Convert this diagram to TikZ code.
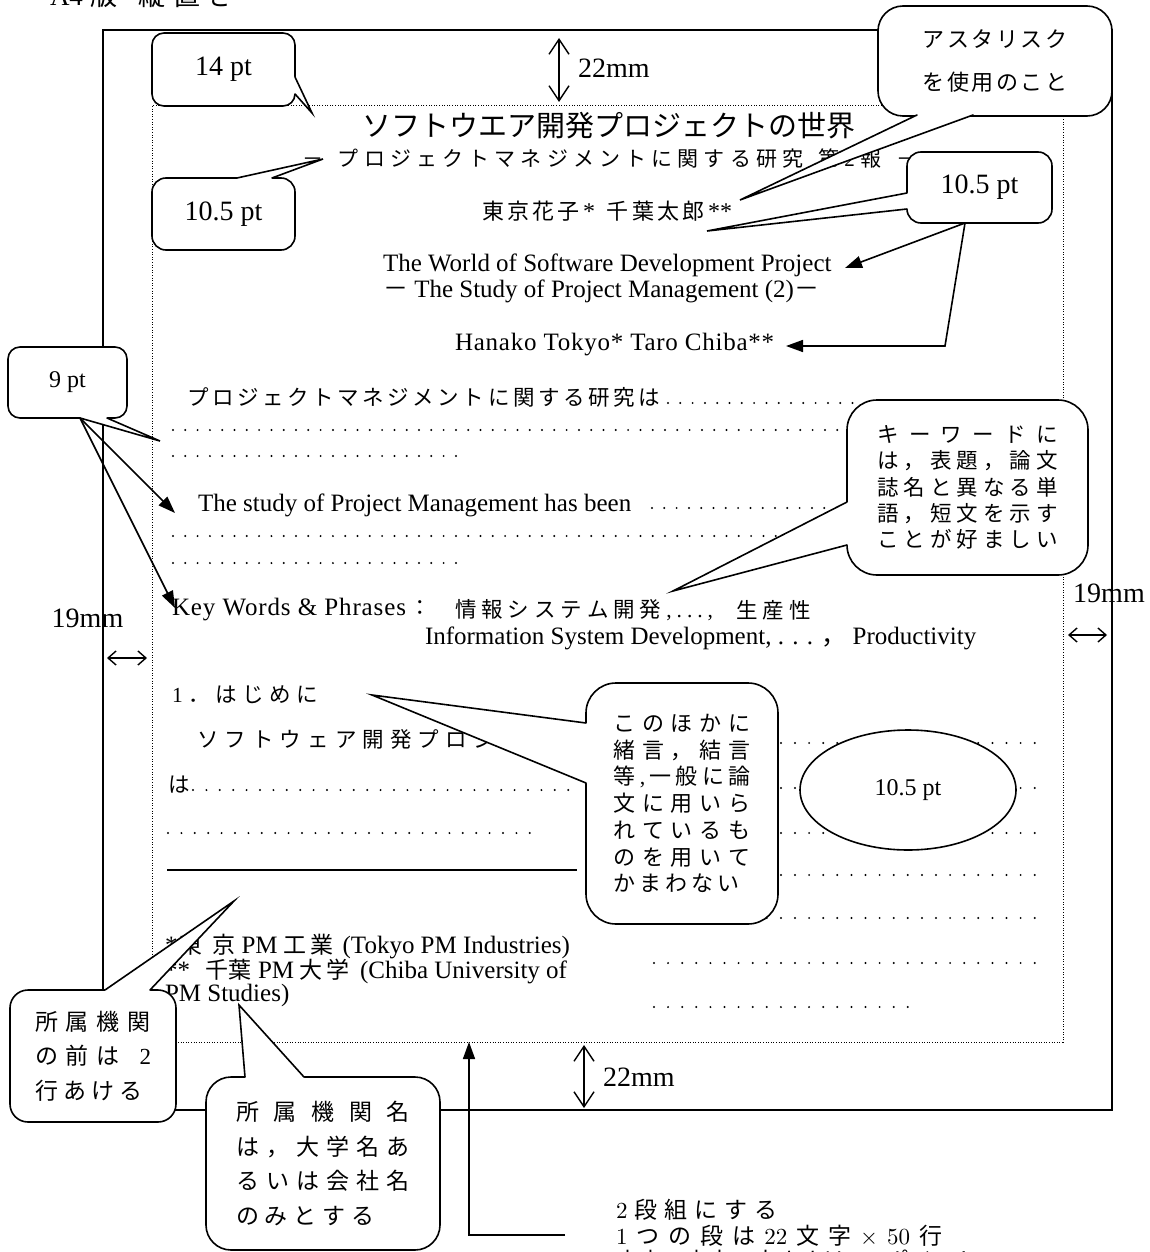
\documentclass[tikz,border=0pt]{standalone}
\usepackage{fontspec}
\setmainfont{Liberation Serif}
\newfontfamily\jp{Noto Sans CJK JP}
\newfontfamily\lmr{lmroman10-regular}[Extension=.otf]
\usetikzlibrary{calc,arrows.meta,shapes.geometric}
\makeatletter
\newcommand\spr[2]{\hbox to #1{\@tfor\spr@t:=#2\do{{\spr@t}\hfil}\unskip}}
\makeatother
\newcommand\fsz[1]{\fontsize{#1}{#1}\selectfont}
\newcommand\ctail[4]{%
  \fill[white] ($(#1)+#4$) -- (#1) -- (#2) -- (#3) -- ($(#3)+#4$) -- cycle;
  \draw[tailline] (#1) -- (#2) -- (#3);}
\tikzset{
  txt/.style={inner sep=0pt, outer sep=0pt, anchor=west},
  ctxt/.style={inner sep=0pt, outer sep=0pt},
  cbox/.style={draw, fill=white, line width=1.6pt, inner sep=0pt, rounded corners=#1},
  tailline/.style={line width=1.6pt, line join=miter, line cap=round},
  arr/.style={line width=1.6pt, -{Triangle[length=17pt,width=12pt]}},
  dimv/.style={line width=1.4pt, {Straight Barb[length=15pt,width=20pt]}-{Straight Barb[length=15pt,width=20pt]}},
  dimh/.style={line width=1.4pt, {Straight Barb[length=8pt,width=14pt]}-{Straight Barb[length=8pt,width=14pt]}},
  dotrow/.style={line width=2.2pt, line cap=round, dash pattern=on 0pt off #1},
  outerframe/.style={line width=1.8pt},
  innerframe/.style={line width=1pt, dash pattern=on 1pt off 1.6pt},
}
\begin{document}
\begin{tikzpicture}[x=1pt,y=-1pt]
\useasboundingbox (0,0) rectangle (1149,1252);
\fill[white] (0,0) rectangle (1149,1252);

% frames
\draw[outerframe] (103,30) rectangle (1112,1110);
\draw[innerframe] (152,106) rectangle (1063,1042);

% top note (cut off at the top edge, as in the reference)
\node[txt, font=\jp\fsz{27}] (a4) at (50,-5) {\spr{185pt}{{\rmfamily A4}版{\ }縦置き}};

% title block
\node[txt, font=\jp\fsz{29}] (title) at (362,126) {\spr{490pt}{ソフトウエア開発プロジェクトの世界}};
\node[txt, font=\jp\fsz{21}] (subt) at (302,159) {\spr{615pt}{－{\ }プロジェクトマネジメントに関する研究{\ }第{\rmfamily 2}報{\ }－}};
\node[txt, font=\jp\fsz{22}] (authj) at (482,211) {\spr{250pt}{東京花子{\rmfamily\fsz{24}*}{\ }千葉太郎{\rmfamily\fsz{24}**}}};
\node[txt, font=\fsz{25}] (twe) at (383,265) {The World of Software Development Project};
\node[txt, font=\fsz{25}] (tse) at (383,291) {{\jp －} The Study of Project Management (2){\jp －}};
\node[txt, font=\fsz{25}] (authe) at (455,345) {\addfontfeatures{LetterSpace=3}Hanako Tokyo* Taro Chiba**};

% abstracts
\node[txt, font=\jp\fsz{21.5}] (absj) at (187,397) {\spr{473pt}{プロジェクトマネジメントに関する研究は}};
\draw[dotrow=12.3pt] (668,403) -- (880,403);
\draw[dotrow=12.3pt] (173,430) -- (880,430);
\draw[dotrow=12.3pt] (173,456) -- (467,456);
\node[txt, font=\fsz{25}] (abse) at (198,505) {The study of Project Management has been};
\draw[dotrow=12.3pt] (652,508) -- (880,508);
\draw[dotrow=12.3pt] (173,536) -- (880,536);
\draw[dotrow=12.3pt] (173,563) -- (467,563);

% key words
\node[txt, font=\fsz{25}] (kwa) at (172,610) {\addfontfeatures{LetterSpace=3.5}Key Words \& Phrases{\jp\fsz{21.5}\hspace{3pt}：}};
\node[txt, font=\jp\fsz{21.5}] (kwb) at (455,610) {\spr{258pt}{情報システム開発{\rmfamily ,}{\rmfamily .}{\rmfamily .}{\rmfamily .}{\rmfamily ,}}};
\node[txt, font=\jp\fsz{21.5}] (kwc) at (736,610) {\spr{75pt}{生産性}};
\node[txt, font=\fsz{25}] (kwe) at (425,638) {Information System Development, . . . {\jp ，} Productivity};

% section 1
\node[txt, font=\jp\fsz{21.5}] (sec) at (172,695) {\spr{146pt}{{\rmfamily 1}．はじめに}};
\node[txt, font=\jp\fsz{21.5}] (intro) at (197,739) {\spr{408pt}{ソフトウェア開発プロジェクトの}};
\node[txt, font=\jp\fsz{21.5}] (ha) at (168,785) {は};
\draw[dotrow=13.4pt] (193,790) -- (580,790);
\draw[dotrow=13.4pt] (168,833) -- (540,833);
\draw[line width=1.3pt] (167,870) -- (577,870);
\foreach \yy in {743,788,833,875,918,963} \draw[dotrow=14.1pt] (654,\yy) -- (1036,\yy);
\draw[dotrow=14.1pt] (654,1007) -- (908,1007);

% affiliations
\node[txt, font=\fsz{25}] (af1) at (165,947) {*\hspace{2pt}{\jp\fsz{23}\spr{56pt}{東京}}\hspace{6pt}PM\hspace{6pt}{\jp\fsz{23}\spr{50pt}{工業}}\hspace{9pt}(Tokyo PM Industries)};
\node[txt, font=\fsz{25}] (af2) at (165,971) {**\hspace{15pt}{\jp\fsz{23}\spr{46pt}{千葉}}\hspace{7pt}PM\hspace{5pt}{\jp\fsz{23}\spr{50pt}{大学}}\hspace{11pt}(Chiba University of};
\node[txt, font=\fsz{25}] (af3) at (165,995) {PM Studies)};

% bottom note
\node[txt, font=\jp\fsz{23}] (n1) at (616,1210) {\spr{161pt}{{\lmr 2}段組にする}};
\node[txt, font=\jp\fsz{23}] (n2) at (616,1236) {\spr{326pt}{{\lmr 1}つの段は{\lmr 22}文字{\lmr ×}{\lmr 50}行}};
\node[txt, font=\jp\fsz{23}] (n3) at (616,1261) {\spr{336pt}{本文の文字の大きさは{\lmr 10.5}ポイント}};

% dimensions
\coordinate (t22a) at (559,38); \coordinate (t22b) at (559,102);
\draw[dimv] (t22a) -- (t22b);
\node[txt, font=\fsz{28}] (d22t) at (578,68) {22mm};
\coordinate (b22a) at (584,1045); \coordinate (b22b) at (584,1108);
\draw[dimv] (b22a) -- (b22b);
\node[txt, font=\fsz{28}] (d22b) at (603,1077) {22mm};
\coordinate (l19a) at (107,658); \coordinate (l19b) at (147,658);
\draw[dimh] (l19a) -- (l19b);
\node[ctxt, font=\fsz{28}] (d19l) at (87.5,618) {19mm};
\coordinate (r19a) at (1068,635); \coordinate (r19b) at (1107,635);
\draw[dimh] (r19a) -- (r19b);
\node[ctxt, font=\fsz{28}] (d19r) at (1109,593) {19mm};

% callouts
\node[cbox=12pt, minimum width=143pt, minimum height=73pt, font=\fsz{28}] (b14) at (223.5,69.5) {14 pt};
\coordinate (t14a) at (295,77); \coordinate (t14t) at (312,113); \coordinate (t14b) at (295,94);
\ctail{t14a}{t14t}{t14b}{(-2,0)}

\node[cbox=14pt, minimum width=143pt, minimum height=72pt, font=\fsz{28}] (b105a) at (223.5,214) {10.5 pt};
\coordinate (t105aa) at (237,178); \coordinate (t105at) at (323,159); \coordinate (t105ab) at (272,178);
\ctail{t105aa}{t105at}{t105ab}{(0,2)}

\node[cbox=25pt, minimum width=234pt, minimum height=110pt, align=center, font=\jp\fontsize{22}{43}\selectfont] (basta) at (995,61) {\spr{145pt}{アスタリスク}\\\spr{145pt}{を使用のこと}};
\coordinate (tasa) at (917,115); \coordinate (tast) at (740,200); \coordinate (tasb) at (973,115);
\ctail{tasa}{tast}{tasb}{(0,-2)}

\node[cbox=14pt, minimum width=145pt, minimum height=71pt, font=\fsz{28}] (b105b) at (979.5,187.5) {10.5 pt};
\coordinate (t105ba) at (907,193); \coordinate (t105bt) at (707,231); \coordinate (t105bb) at (907,209);
\ctail{t105ba}{t105bt}{t105bb}{(2,0)}

\node[cbox=12pt, minimum width=119pt, minimum height=71pt, font=\fsz{24}] (b9) at (67.5,382.5) {9 pt};
\coordinate (p9) at (80,418); \coordinate (t9t) at (160,441); \coordinate (t9b) at (107,418);
\ctail{p9}{t9t}{t9b}{(0,-2)}

\node[cbox=30pt, minimum width=241pt, minimum height=175pt, align=center, font=\jp\fontsize{21.5}{26.25}\selectfont] (bkw) at (967.5,487.5) {\spr{180pt}{キーワードに}\\\spr{180pt}{は，表題，論文}\\\spr{180pt}{誌名と異なる単}\\\spr{180pt}{語，短文を示す}\\\spr{180pt}{ことが好ましい}};
\coordinate (tkwa) at (847,502); \coordinate (tkwt) at (673,591); \coordinate (tkwb) at (847,545);
\ctail{tkwa}{tkwt}{tkwb}{(2,0)}

\node[cbox=30pt, minimum width=192pt, minimum height=241pt, align=left, font=\jp\fontsize{22}{26.7}\selectfont] (both) at (682,803.5) {\spr{137pt}{このほかに}\\\spr{137pt}{緒言，結言}\\\spr{137pt}{等{\rmfamily ,}一般に論}\\\spr{137pt}{文に用いら}\\\spr{137pt}{れているも}\\\spr{137pt}{のを用いて}\\\spr{126pt}{かまわない}};
\coordinate (tota) at (586,723); \coordinate (tott) at (372,695); \coordinate (totb) at (586,783);
\ctail{tota}{tott}{totb}{(2,0)}

\node[ellipse, draw, fill=white, line width=1.6pt, minimum width=216pt, minimum height=120pt, inner sep=0pt, font=\fsz{24}] (ell) at (908,790) {10.5 pt};

\node[cbox=18pt, minimum width=166pt, minimum height=132pt, align=left, font=\jp\fontsize{23}{34.5}\selectfont] (baff) at (93,1056) {\spr{116pt}{所属機関}\\\spr{116pt}{の前は{\ }{\rmfamily 2}}\\\spr{108pt}{行あける}};
\coordinate (tafa) at (105,990); \coordinate (taft) at (234,901); \coordinate (tafb) at (150,990);
\ctail{tafa}{taft}{tafb}{(0,2)}

\node[cbox=25pt, minimum width=234pt, minimum height=173pt, align=left, font=\jp\fontsize{23}{34.7}\selectfont] (baffn) at (323,1163.5) {\spr{174pt}{所属機関名}\\\spr{174pt}{は，大学名あ}\\\spr{174pt}{るいは会社名}\\\spr{138pt}{のみとする}};
\coordinate (tana) at (245,1077); \coordinate (tant) at (239,1005); \coordinate (tanb) at (304,1077);
\ctail{tana}{tant}{tanb}{(0,2)}

% connector arrows
\coordinate (a9s) at (175,513); \coordinate (a9k) at (175,608);
\draw[arr] (p9) -- (a9s);
\draw[arr] (p9) -- (a9k);
\coordinate (p105) at (965,223); \coordinate (a105p) at (845,268);
\coordinate (a105m) at (945,346); \coordinate (a105h) at (786,346);
\draw[arr] (p105) -- (a105p);
\draw[arr] (p105) -- (a105m) -- (a105h);
\coordinate (u1) at (565,1235); \coordinate (u2) at (469,1042);
\draw[arr] (u1) -| (u2);
\end{tikzpicture}
\end{document}
